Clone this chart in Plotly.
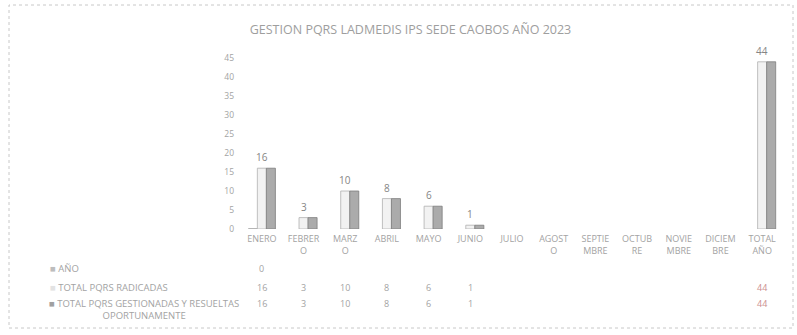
import plotly.graph_objects as go

W, H = 797, 335
L, R, T, B = 241, 14, 58, 106

categories = ["ENERO", "FEBRERO", "MARZO", "ABRIL", "MAYO", "JUNIO", "JULIO",
              "AGOSTO", "SEPTIEMBRE", "OCTUBRE", "NOVIEMBRE", "DICIEMBRE", "TOTAL AÑO"]
tick_labels = ["ENERO", "FEBRER<br>O", "MARZ<br>O", "ABRIL", "MAYO", "JUNIO", "JULIO",
               "AGOST<br>O", "SEPTIE<br>MBRE", "OCTUB<br>RE", "NOVIE<br>MBRE", "DICIEM<br>BRE", "TOTAL<br>AÑO"]
anio = [0, None, None, None, None, None, None, None, None, None, None, None, None]
radicadas = [16, 3, 10, 8, 6, 1, None, None, None, None, None, None, 44]
gestionadas = [16, 3, 10, 8, 6, 1, None, None, None, None, None, None, 44]
series_names = ["AÑO", "TOTAL PQRS RADICADAS", "TOTAL PQRS GESTIONADAS Y RESUELTAS<br>OPORTUNAMENTE"]
y_ticks = [0, 5, 10, 15, 20, 25, 30, 35, 40, 45]

TXT = "#a3a3a3"
FONT = "Open Sans"

fig = go.Figure()
fig.add_bar(x=categories, y=anio, name=series_names[0],
            marker=dict(color="#bdbdbd", line=dict(color="#8a8a8a", width=0.8)))
fig.add_bar(x=categories, y=radicadas, name=series_names[1],
            marker=dict(color="#f2f2f2", line=dict(color="#b0b0b0", width=0.8)))
fig.add_bar(x=categories, y=gestionadas, name=series_names[2],
            marker=dict(color="#ababab", line=dict(color="#7e7e7e", width=0.8)))

# value labels above bar pairs
for c, v in zip(categories, gestionadas):
    if v is not None:
        fig.add_annotation(x=c, y=v, text=str(v), showarrow=False, yshift=11,
                           font=dict(size=10, color="#858585", family=FONT))

# helpers to convert pixel positions to paper coords
pw, ph = W - L - R, H - T - B
def px(x): return (x - L) / pw
def py(y): return (H - B - y) / ph

# data table row labels
lab_font = dict(size=9.5, color=TXT, family=FONT)
fig.add_annotation(xref="paper", yref="paper", x=px(48), y=py(268), xanchor="left", yanchor="middle",
                   text="<span style='color:#bdbdbd'>■</span> AÑO", showarrow=False, font=lab_font)
fig.add_annotation(xref="paper", yref="paper", x=px(48), y=py(287), xanchor="left", yanchor="middle",
                   text="<span style='color:#e3e3e3'>■</span> TOTAL PQRS RADICADAS", showarrow=False,
                   font=lab_font)
fig.add_annotation(xref="paper", yref="paper", x=px(144), y=py(309), xanchor="center", yanchor="middle",
                   text="<span style='color:#a0a0a0'>■</span> TOTAL PQRS GESTIONADAS Y RESUELTAS<br>OPORTUNAMENTE",
                   showarrow=False, align="center", font=lab_font)

# data table values
for row, ypix in ((anio, 268), (radicadas, 287), (gestionadas, 303)):
    for c, v in zip(categories, row):
        if v is not None:
            col = "#cc8f8f" if c == "TOTAL AÑO" else TXT
            fig.add_annotation(x=c, yref="paper", y=py(ypix), yanchor="middle", text=str(v),
                               showarrow=False, font=dict(size=9, color=col, family=FONT))

# scan border
fig.add_shape(type="rect", xref="paper", yref="paper", x0=px(9), x1=px(793), y0=py(328), y1=py(5),
              line=dict(color="#c8c8c8", width=1, dash="dot"))

fig.update_layout(
    width=W, height=H, margin=dict(l=L, r=R, t=T, b=B),
    paper_bgcolor="white", plot_bgcolor="white",
    barmode="group", bargap=0.35, bargroupgap=0.0, showlegend=False,
    title=dict(text="GESTION PQRS LADMEDIS IPS SEDE CAOBOS AÑO 2023", x=(243 + 578) / 2 / W,
               xanchor="center", y=1 - 30 / H, yanchor="middle",
               font=dict(size=12.5, color="#9e9e9e", family=FONT)),
    font=dict(family=FONT, color=TXT),
)
fig.update_xaxes(tickvals=categories, ticktext=tick_labels, showline=False, showgrid=False,
                 ticks="", tickfont=dict(size=9, color=TXT), ticklabelstandoff=3)
fig.update_yaxes(range=[0, 45], tickvals=y_ticks, showgrid=False, showline=False, zeroline=False,
                 ticks="", tickfont=dict(size=8.5, color=TXT), ticklabelstandoff=6)

fig.write_html("out.html")
